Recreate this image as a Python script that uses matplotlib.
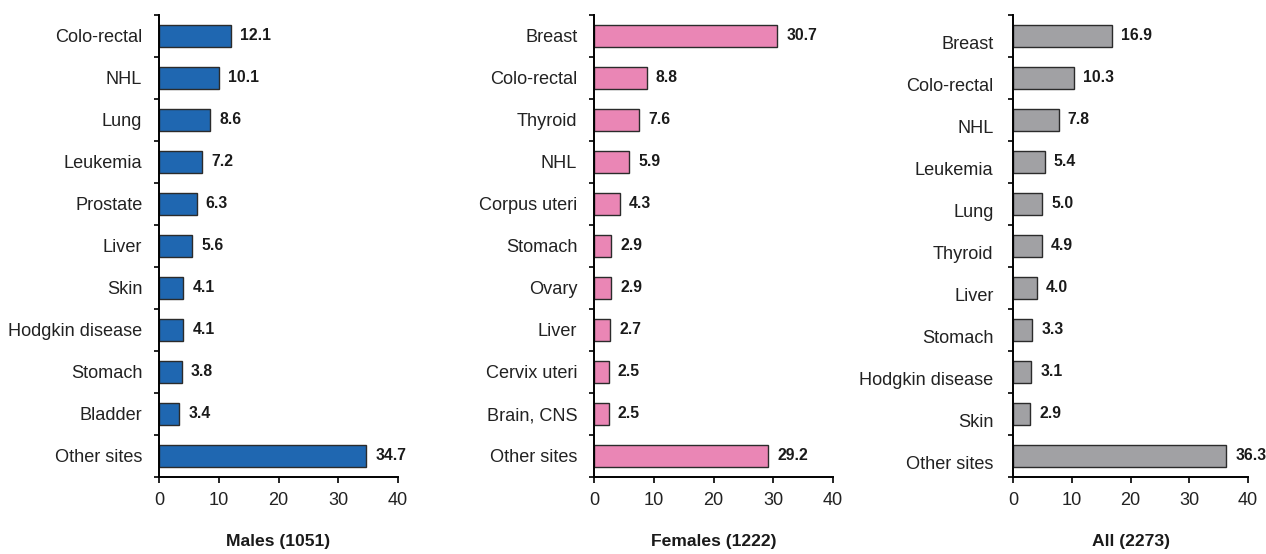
import matplotlib
matplotlib.use("Agg")
import matplotlib.pyplot as plt
from matplotlib import font_manager
from matplotlib.transforms import ScaledTranslation
import numpy as np

# Data per panel (top to bottom)
males_sites = ["Colo-rectal", "NHL", "Lung", "Leukemia", "Prostate", "Liver",
               "Skin", "Hodgkin disease", "Stomach", "Bladder", "Other sites"]
males_pct = [12.1, 10.1, 8.6, 7.2, 6.3, 5.6, 4.1, 4.1, 3.8, 3.4, 34.7]

females_sites = ["Breast", "Colo-rectal", "Thyroid", "NHL", "Corpus uteri", "Stomach",
                 "Ovary", "Liver", "Cervix uteri", "Brain, CNS", "Other sites"]
females_pct = [30.7, 8.8, 7.6, 5.9, 4.3, 2.9, 2.9, 2.7, 2.5, 2.5, 29.2]

all_sites = ["Breast", "Colo-rectal", "NHL", "Leukemia", "Lung", "Thyroid",
             "Liver", "Stomach", "Hodgkin disease", "Skin", "Other sites"]
all_pct = [16.9, 10.3, 7.8, 5.4, 5.0, 4.9, 4.0, 3.3, 3.1, 2.9, 36.3]

titles = ["Males (1051)", "Females (1222)", "All (2273)"]
x_ticks = [0, 10, 20, 30, 40]

COLORS = ["#1f67b1", "#ea86b5", "#a1a1a4"]

# pick a narrow sans if it exists, otherwise shrink regular one
names = {f.name for f in font_manager.fontManager.ttflist}
if "Liberation Sans Narrow" in names:
    FONT = "Liberation Sans Narrow"
    scale = 1.0
else:
    FONT = "Liberation Sans"
    scale = 0.84
plt.rcParams["font.family"] = [FONT, "DejaVu Sans"]

fig = plt.figure(figsize=(12.66, 5.54), dpi=100)
W, H = 1266, 554

# axes extents in pixels: (x0, x1)
extents = [(159, 398), (594, 833), (1013, 1248)]
y_top, y_bot = 15, 477

panels = [(males_sites, males_pct), (females_sites, females_pct), (all_sites, all_pct)]

for i, ((sites, pct), (x0, x1)) in enumerate(zip(panels, extents)):
    ax = fig.add_axes([x0 / W, 1 - y_bot / H, (x1 - x0) / W, (y_bot - y_top) / H])
    y = np.arange(len(sites))
    ax.barh(y, pct, height=0.52, color=COLORS[i], edgecolor="#2b2b2b", linewidth=1.0)
    for yy, v in zip(y, pct):
        ax.annotate(f"{v:.1f}", (v, yy), xytext=(6.5, 0), textcoords="offset points",
                    ha="left", va="center", fontsize=13.5 * scale, fontweight="bold",
                    color="#1a1a1a")

    ax.set_xlim(0, 40)
    ax.set_ylim(len(sites) - 0.5, -0.5)
    ax.set_yticks(y)
    ax.set_yticklabels(sites, fontsize=15.5 * scale, color="#222222")
    ax.set_yticks(np.arange(-0.5, len(sites)), minor=True)
    ax.tick_params(axis="y", which="major", length=0, pad=12 if i < 2 else 14)
    ax.tick_params(axis="y", which="minor", length=3.5, width=1.2, direction="out")
    ax.set_xticks(x_ticks)
    ax.tick_params(axis="x", length=4, width=1.2, direction="out", labelsize=15.5 * scale,
                   pad=7, labelcolor="#222222")
    ax.set_xlabel(titles[i], fontsize=15 * scale, fontweight="bold", labelpad=18,
                  color="#1a1a1a")

    for s in ["top", "right"]:
        ax.spines[s].set_visible(False)
    for s in ["left", "bottom"]:
        ax.spines[s].set_linewidth(1.4)

    if i == 2:
        # labels in the last panel sit a little lower than the bars
        off = ScaledTranslation(0, -5 / 72, fig.dpi_scale_trans)
        for lab in ax.get_yticklabels():
            lab.set_transform(lab.get_transform() + off)

plt.savefig("out.png", dpi=100)
plt.close()
